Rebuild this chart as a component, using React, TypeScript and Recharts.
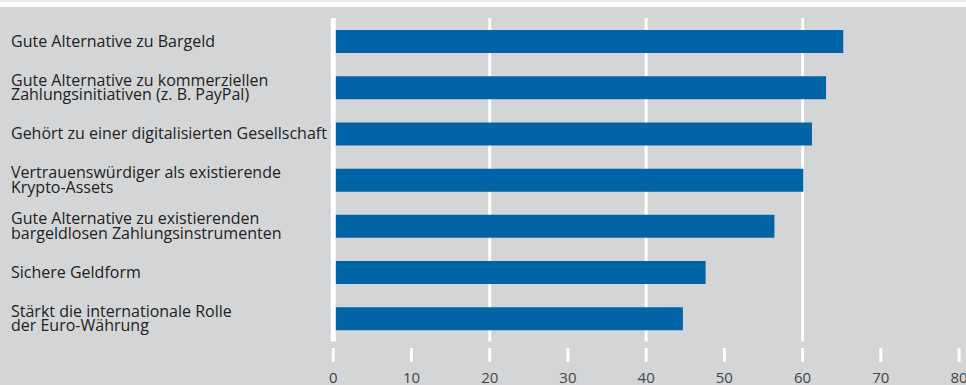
import { BarChart, Bar, XAxis, YAxis, CartesianGrid } from 'recharts';

const categories = [
  'Gute Alternative zu Bargeld',
  'Gute Alternative zu kommerziellen\nZahlungsinitiativen (z. B. PayPal)',
  'Gehört zu einer digitalisierten Gesellschaft',
  'Vertrauenswürdiger als existierende\nKrypto-Assets',
  'Gute Alternative zu existierenden\nbargeldlosen Zahlungsinstrumenten',
  'Sichere Geldform',
  'Stärkt die internationale Rolle\nder Euro-Währung',
];

const shares = [65.2, 63.0, 61.2, 60.1, 56.4, 47.6, 44.7];

const xTicks = [0, 10, 20, 30, 40, 50, 60, 70, 80];
const gridValues = [20, 40, 60];

const data = categories.map((name, i) => ({ name, value: shares[i] }));

const FONT = '"Open Sans", sans-serif';

function CategoryTick({ y, payload }: any) {
  const lines = String(payload.value).split('\n');
  const lineH = 14.5;
  const start = y + 5.5 - ((lines.length - 1) * lineH) / 2;
  return (
    <text x={11} y={start} textAnchor="start" fill="#222" fontSize={16} fontFamily={FONT}>
      {lines.map((l, i) => (
        <tspan key={i} x={11} dy={i === 0 ? 0 : lineH}>
          {l}
        </tspan>
      ))}
    </text>
  );
}

function ValueTick({ x, y, payload }: any) {
  return (
    <g>
      <line x1={x} x2={x} y1={y + 6.5} y2={y + 20.5} stroke="#fff" strokeWidth={3} />
      <text x={x} y={y + 41} textAnchor="middle" fill="#454545" fontSize={15} fontFamily={FONT}>
        {payload.value}
      </text>
    </g>
  );
}

export default function App() {
  return (
    <div style={{ position: 'absolute', left: 0, top: 0, width: 966, height: 385, background: '#d4d5d7' }}>
      <div style={{ position: 'absolute', left: 0, top: 0, width: 966, height: 2, background: '#ebebeb' }} />
      <div style={{ position: 'absolute', left: 0, top: 2, width: 966, height: 5, background: '#fff' }} />
      <div style={{ position: 'absolute', left: 0, top: 0 }}>
        <BarChart
          width={966}
          height={385}
          data={data}
          layout="vertical"
          margin={{ top: 18, right: 7, bottom: 0, left: 0 }}
          barSize={23}
        >
          <CartesianGrid horizontal={false} verticalValues={gridValues} stroke="#fff" strokeWidth={3} />
          <Bar dataKey="value" fill="#0064a6" isAnimationActive={false} />
          <XAxis
            type="number"
            domain={[0, 80]}
            ticks={xTicks}
            height={43.5}
            axisLine={false}
            tickLine={false}
            tickSize={0}
            tickMargin={0}
            tick={<ValueTick />}
            interval={0}
          />
          <YAxis
            type="category"
            dataKey="name"
            width={333.3}
            axisLine={{ stroke: '#fff', strokeWidth: 5 }}
            tickLine={false}
            tickSize={0}
            tickMargin={0}
            tick={<CategoryTick />}
            interval={0}
          />
        </BarChart>
      </div>
    </div>
  );
}
